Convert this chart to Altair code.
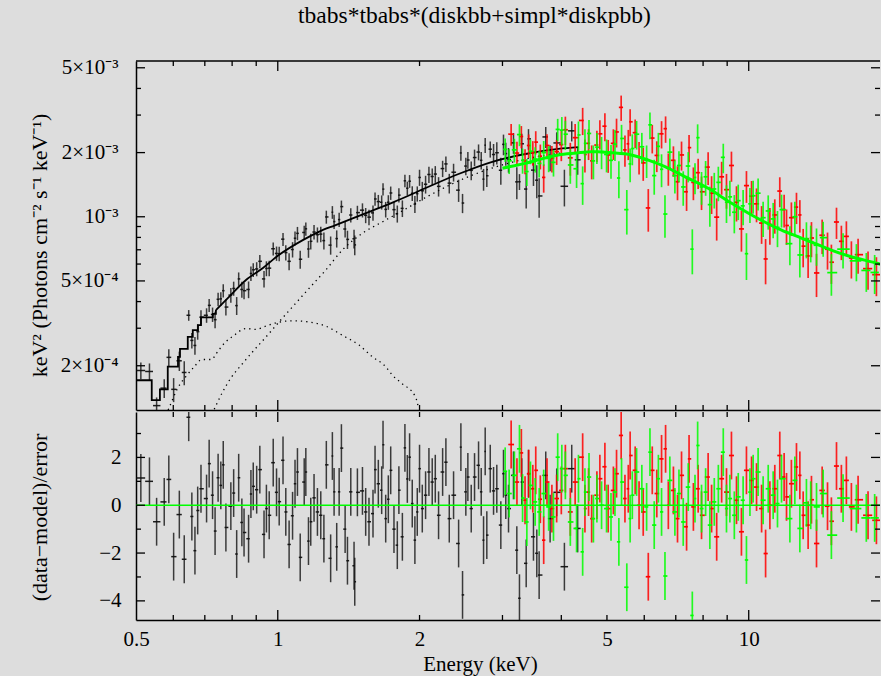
import altair as alt
import numpy as np
import pandas as pd

FONT = "Liberation Serif"
W, H_TOP, H_BOT = 744, 349, 208
X_DOM = [0.5, 19.0]
Y_TOP_DOM = [1.24e-4, 5.38e-3]
Y_BOT_DOM = [-4.8, 3.9]
BLK, RED, GRN = "#000000", "#ff0000", "#00ff00"

# ---------------- black instrument (energies keV, flux & error in 1e-4, residuals) ----------------
blk_E = [0.512,0.534,0.553,0.574,0.587,0.601,0.618,0.633,0.647,0.657,
         0.667,0.676,0.687,0.706,0.715,0.727,0.736,0.747,0.757,0.766,
         0.776,0.795,0.806,0.818,0.826,0.839,0.848,0.867,0.877,0.887,
         0.902,0.916,0.935,0.946,0.959,0.978,0.994,1.007,1.026,1.040,
         1.057,1.075,1.088,1.101,1.116,1.138,1.147,1.162,1.175,1.194,
         1.214,1.234,1.253,1.268,1.295,1.306,1.317,1.334,1.350,1.365,
         1.390,1.406,1.429,1.452,1.457,1.476,1.513,1.537,1.562,1.593,
         1.609,1.635,1.662,1.673,1.695,1.717,1.737,1.765,1.794,1.808,
         1.839,1.862,1.884,1.905,1.930,1.955,1.978,2.000,2.027,2.060,
         2.094,2.128,2.160,2.195,2.239,2.275,2.313,2.362,2.421,2.448,
         2.468,2.508,2.533,2.575,2.617,2.669,2.704,2.735,2.757,2.779,
         2.826,2.872,2.918,2.976,3.015,3.049,3.090,3.166,3.218,3.260,
         3.297,3.369,3.407,3.491,3.548,3.589,3.707,3.787,3.911,4.061,4.209,4.333]
blk_flux = [1.90,1.88,1.30,1.57,2.19,1.55,2.11,1.86,3.45,2.63,
            2.49,2.89,3.38,3.45,3.84,3.48,3.29,4.10,4.12,4.50,
            3.77,4.29,4.61,3.83,5.11,4.56,4.50,4.56,5.42,5.64,
            5.69,6.18,5.11,5.72,5.74,7.08,6.73,6.71,7.85,6.79,
            6.18,7.02,7.93,8.36,6.32,8.44,8.78,7.06,7.67,8.48,
            8.24,8.29,7.73,9.98,7.36,10.50,9.49,7.90,9.70,11.16,
            8.76,7.83,10.19,7.89,7.38,10.46,10.74,10.16,9.96,10.43,
            12.12,11.78,11.70,13.48,10.83,11.70,12.93,10.80,10.34,12.63,
            10.95,14.75,13.61,14.68,12.88,11.46,12.83,15.29,13.24,14.21,
            15.79,15.45,15.86,13.89,16.83,17.70,14.38,16.18,13.33,19.93,
            11.60,17.29,18.46,16.51,18.96,20.12,18.40,15.01,21.67,15.58,
            20.75,19.59,19.97,16.53,21.86,19.79,18.56,22.22,14.58,14.60,
            22.00,13.49,23.20,16.55,14.84,12.52,23.69,19.00,22.20,13.90,25.30,18.50]
blk_err = [0.17,0.17,0.12,0.16,0.20,0.20,0.22,0.24,0.20,0.22,
           0.24,0.24,0.26,0.27,0.27,0.27,0.29,0.30,0.31,0.32,
           0.33,0.34,0.35,0.37,0.37,0.39,0.40,0.41,0.42,0.42,
           0.43,0.44,0.45,0.46,0.48,0.50,0.52,0.53,0.55,0.56,
           0.57,0.58,0.59,0.60,0.61,0.63,0.63,0.64,0.65,0.66,
           0.67,0.69,0.70,0.70,0.72,0.72,0.73,0.73,0.74,0.75,
           0.76,0.77,0.78,0.79,0.79,0.80,0.82,0.83,0.84,0.86,
           0.87,0.88,0.89,0.90,0.91,0.92,0.93,0.94,0.95,0.96,
           0.98,0.99,1.00,1.01,1.02,1.04,1.05,1.33,1.34,1.36,
           1.39,1.41,1.43,1.45,1.48,1.50,1.52,1.55,1.59,1.60,
           1.20,1.64,1.65,1.67,1.70,1.72,1.74,1.76,1.77,1.78,
           1.80,2.36,2.38,2.41,2.43,2.44,2.46,2.49,2.51,1.25,
           2.54,2.56,2.57,2.60,2.61,2.62,2.65,2.67,2.70,2.72,2.74,2.76]
blk_res = [1.14,1.00,-0.69,0.14,1.08,-2.15,-0.39,-2.26,3.68,-0.47,
           -1.90,-0.22,0.69,0.28,1.74,0.42,-1.08,1.15,0.83,1.69,
           -0.93,-0.04,0.51,-2.04,1.15,-0.72,-1.14,-1.40,0.47,0.79,
           0.65,1.49,-1.22,-0.14,-0.42,1.78,0.54,0.15,1.88,-0.28,
           -1.64,-0.44,0.90,1.39,-2.18,0.97,1.39,-1.50,-0.69,0.31,
           -0.28,-0.42,-1.40,1.69,-2.22,2.06,0.56,-1.74,0.56,2.39,
           -1.00,-2.32,0.56,-2.53,-3.20,0.54,0.60,-0.28,-0.69,-0.35,
           1.49,0.90,0.63,2.53,-0.56,0.25,1.46,-1.00,-1.67,0.63,
           -1.32,2.40,1.10,2.01,0.07,-1.46,-0.28,1.53,-0.14,0.42,
           1.39,0.97,1.11,-0.42,1.39,1.80,-0.56,0.42,-1.60,2.43,
           -3.75,0.56,1.18,-0.14,1.18,1.67,0.56,-1.46,2.25,-1.25,
           1.53,0.60,0.69,-0.83,1.32,0.42,-0.14,1.25,-1.88,-3.89,
           0.97,-2.43,1.32,-1.32,-2.01,-2.92,1.25,-0.56,0.54,-2.57,1.53,-0.97]

# ---------------- red instrument ----------------
red_E = [3.13,3.22,3.29,3.35,3.41,3.48,3.53,3.61,3.67,3.73,
         3.82,3.91,4.00,4.08,4.18,4.28,4.44,4.49,4.57,4.64,
         4.76,4.83,4.95,5.03,5.16,5.24,5.36,5.46,5.55,5.60,
         5.74,5.85,5.97,6.12,6.24,6.38,6.53,6.66,6.75,6.92,
         7.06,7.20,7.38,7.47,7.63,7.81,7.94,8.20,8.34,8.55,
         8.76,8.97,9.19,9.42,9.65,9.89,10.14,10.39,10.65,10.86,
         11.09,11.36,11.64,11.89,12.03,12.32,12.63,12.84,13.05,13.37,
         13.59,13.93,14.32,14.70,14.98,15.36,15.73,16.12,16.52,17.07,
         17.92,18.67]
red_flux = [24.4,19.9,23.8,18.3,21.6,20.0,22.4,19.25,15.3,21.6,
            18.8,20.2,21.8,25.6,18.9,23.5,28.3,19.6,22.1,18.3,
            21.7,24.5,26.6,19.5,22.1,25.0,32.6,20.6,22.0,27.9,
            24.8,19.1,17.9,11.0,23.4,19.4,24.5,25.9,16.9,18.4,
            14.6,19.5,13.1,21.1,14.5,16.1,13.1,17.1,12.9,9.96,
            15.4,13.4,17.4,11.7,8.77,14.0,12.5,11.5,9.34,6.34,
            9.2,10.2,13.2,10.8,9.1,9.9,11.1,10.2,7.28,6.55,
            7.95,5.45,8.19,7.04,6.12,9.45,7.67,8.09,6.4,6.64,
            5.71,5.35]
red_err = [2.84,2.57,2.84,2.46,2.73,2.64,2.80,2.57,2.33,2.79,
           2.65,2.70,3.57,3.89,3.32,3.73,4.13,3.45,3.65,3.32,
           3.61,3.84,4.01,3.43,3.63,3.86,4.43,3.43,3.56,4.05,
           3.79,3.30,3.16,2.49,3.58,3.20,3.59,3.67,2.92,3.00,
           2.65,3.03,2.45,3.10,2.54,2.61,2.35,3.00,2.60,2.23,
           2.71,2.49,2.81,2.20,1.91,2.38,2.22,2.08,1.88,1.52,
           1.80,1.87,2.12,1.89,1.72,1.78,1.86,1.77,1.49,1.39,
           1.49,1.25,1.51,1.39,1.28,1.58,1.41,1.43,1.27,1.24,
           1.17,1.11]
red_res = [2.54,0.97,2.19,0.21,1.32,0.69,1.46,0.25,-1.46,0.97,
           -0.14,0.28,0.62,1.53,-0.28,0.97,2.01,-0.14,0.55,-0.56,
           0.42,1.11,1.61,-0.14,0.62,1.32,2.92,0.28,0.69,2.08,
           1.46,0.00,-0.28,-2.99,1.46,0.49,1.94,2.36,0.00,0.62,
           -0.56,1.25,-0.90,1.94,-0.07,0.69,-0.42,1.18,-0.14,-1.32,
           1.11,0.55,2.08,0.21,-1.11,1.46,1.04,0.76,-0.14,-2.02,
           0.00,0.69,2.08,1.18,0.35,0.90,1.60,1.25,-0.42,-0.83,
           0.23,-1.60,0.62,-0.04,-0.67,1.64,0.69,1.04,-0.07,0.23,
           -0.42,-0.63]

# ---------------- green instrument ----------------
grn_E = [3.04,3.10,3.18,3.26,3.31,3.38,3.44,3.52,3.59,3.67,
         3.76,3.85,3.93,4.01,4.08,4.18,4.31,4.35,4.44,4.49,
         4.58,4.68,4.76,4.87,4.99,5.10,5.20,5.30,5.37,5.51,
         5.60,5.66,5.78,5.93,6.07,6.17,6.30,6.43,6.53,6.64,
         6.80,6.97,7.11,7.26,7.44,7.59,7.69,7.79,7.94,8.10,
         8.27,8.45,8.62,8.83,8.97,9.12,9.32,9.50,9.73,9.89,
         10.06,10.22,10.47,10.73,11.00,11.27,11.51,11.74,12.23,12.53,
         12.84,13.26,13.54,13.93,14.39,14.98,15.86,16.93,17.77,18.51]
grn_flux = [20.7,18.3,20.6,24.3,18.4,16.3,20.3,18.65,17.8,20.0,
            18.8,18.0,25.7,25.5,24.4,17.5,16.8,24.2,14.3,22.1,
            24.6,18.3,21.2,20.2,19.6,18.4,21.9,15.2,23.3,10.8,
            17.7,20.9,24.4,21.3,18.4,27.0,15.6,21.4,16.7,10.3,
            20.1,15.6,17.4,13.8,17.3,7.05,15.3,23.5,13.8,15.4,
            11.4,13.5,14.5,19.0,11.7,12.4,10.5,11.9,11.25,6.71,
            11.5,12.55,12.9,9.9,10.65,9.77,8.92,10.8,7.48,10.0,
            6.62,7.9,7.6,7.35,7.98,5.47,7.05,6.21,5.6,5.48]
grn_err = [2.60,2.44,2.62,2.86,2.48,2.35,2.66,2.53,2.51,2.67,
           2.62,2.56,3.10,3.87,3.80,3.22,3.16,3.80,2.93,3.65,
           3.85,3.32,3.53,3.49,3.45,3.31,3.62,3.00,3.70,2.55,
           3.20,3.46,3.74,3.45,3.20,3.87,2.91,3.36,2.94,2.32,
           3.18,2.75,2.87,2.54,2.80,1.68,2.55,3.64,2.42,2.86,
           2.43,2.57,2.67,3.01,2.35,2.34,2.14,2.25,2.12,1.66,
           2.14,2.21,2.20,1.86,1.95,1.84,1.72,1.90,1.55,1.77,
           1.43,1.52,1.49,1.46,1.49,1.21,1.33,1.23,1.16,1.14]
grn_res = [1.42,0.49,1.25,2.36,0.30,-0.70,0.83,0.14,-0.28,0.49,
           -0.07,-0.49,2.01,1.53,1.25,-0.70,-0.97,1.11,-1.95,0.55,
           1.18,-0.56,0.28,0.00,-0.14,-0.49,0.55,-1.53,0.97,-3.43,
           -0.56,0.42,1.39,0.69,-0.07,2.22,-0.83,1.11,-0.28,-2.96,
           1.04,-0.28,0.49,-0.70,0.76,-4.61,0.28,2.50,-0.14,0.55,
           -0.83,0.14,0.69,2.22,-0.14,0.28,-0.42,0.35,0.21,-2.29,
           0.55,1.11,1.39,0.21,0.69,0.42,0.07,1.11,-0.56,1.04,
           -0.97,0.10,0.00,-0.07,0.49,-1.25,0.30,-0.14,-0.53,-0.53]

# ---------------- models (1e-4 units) ----------------
blk_step_E = [0.500,0.540,0.562,0.584,0.614,0.620,0.644,0.660,0.677,0.687,0.728,0.739]
blk_step_v = [1.71,1.38,1.55,1.98,2.20,2.40,2.73,2.94,3.10,3.37,3.50,3.65]
blk_mod_E = [0.739,0.787,0.856,0.930,1.005,1.130,1.222,1.327,1.442,1.559,1.762,2.061,2.420,2.843,3.357,3.940,4.350]
blk_mod_v = [3.65,4.20,5.05,5.75,6.61,7.77,8.50,9.14,9.83,10.52,11.72,13.64,15.87,18.06,19.70,20.80,21.20]
nus_mod_E = [3.00,3.35,3.94,4.30,4.63,4.79,5.04,5.63,6.10,6.64,7.33,8.20,9.18,10.3,11.54,12.73,13.8,14.97,16.5,18.8,19.5]
nus_mod_v = [16.9,17.8,19.5,19.9,20.2,20.2,20.0,19.5,18.5,17.2,15.4,13.6,11.6,10.0,8.8,8.06,7.5,6.98,6.49,6.04,5.9]
compA_E = [0.585,0.593,0.613,0.638,0.665,0.690,0.724,0.739,0.770,0.808,0.856,0.899,0.943,0.991,1.075,1.165,1.264,1.371,1.488,1.589,1.695,1.75,1.83,1.96,1.99]
compA_v = [1.24,1.33,1.57,1.78,1.98,2.14,2.14,2.27,2.55,2.78,2.99,2.96,3.07,3.18,3.25,3.21,3.07,2.78,2.50,2.20,1.98,1.81,1.66,1.43,1.27]
compB_E = [0.733,0.764,0.795,0.842,0.891,0.951,1.006,1.076,1.165,1.264,1.371,1.512,1.667,1.83,2.10,2.40,2.80,3.20,3.60,4.00]
compB_v = [1.25,1.51,1.75,2.05,2.37,2.78,3.21,3.79,4.61,5.62,6.98,8.36,9.46,10.6,12.6,14.6,16.7,18.2,19.2,19.9]

# ---------------- axis ticks / labels ----------------
x_lab_vals = [0.5, 1, 2, 5, 10]
x_major = [1, 10]
x_minor = [0.6, 0.7, 0.8, 0.9, 2, 3, 4, 5, 6, 7, 8, 9]
yt_lab_vals = [2e-4, 5e-4, 1e-3, 2e-3, 5e-3]
yt_lab_text = ["2\u00d710\u207b\u2074", "5\u00d710\u207b\u2074", "10\u207b\u00b3",
               "2\u00d710\u207b\u00b3", "5\u00d710\u207b\u00b3"]
yt_minor = [3e-4, 4e-4, 6e-4, 7e-4, 8e-4, 9e-4, 3e-3, 4e-3]
yb_lab_vals = [-4, -2, 0, 2]
yb_minor = [-3, -1, 1, 3]

TITLE = "tbabs*tbabs*(diskbb+simpl*diskpbb)"
YT_TITLE = "keV\u00b2 (Photons cm\u207b\u00b2 s\u207b\u00b9 keV\u207b\u00b9)"
YB_TITLE = "(data\u2212model)/error"
XB_TITLE = "Energy (keV)"


def series_df(E, f, e, r):
    n = min(len(E), len(f), len(e), len(r))
    E = np.array(E[:n], float)
    f = np.array(f[:n], float) * 1e-4
    e = np.array(e[:n], float) * 1e-4
    r = np.array(r[:n], float)
    mid = np.sqrt(E[:-1] * E[1:])
    lo = np.concatenate([[E[0] ** 2 / mid[0]], mid])
    hi = np.concatenate([mid, [E[-1] ** 2 / mid[-1]]])
    return pd.DataFrame(dict(E=E, lo=lo, hi=hi, f=f, fl=np.maximum(f - e, 1e-6), fh=f + e,
                             r=r, rl=r - 1, rh=r + 1))


def curve_df(E, v):
    n = min(len(E), len(v))
    return pd.DataFrame(dict(E=E[:n], v=np.array(v[:n], float) * 1e-4))


xs = alt.Scale(type="log", domain=X_DOM, nice=False)
yts = alt.Scale(type="log", domain=Y_TOP_DOM, nice=False)
ybs = alt.Scale(domain=Y_BOT_DOM, nice=False, zero=False)

blk = series_df(blk_E, blk_flux, blk_err, blk_res)
red = series_df(red_E, red_flux, red_err, red_res)
grn = series_df(grn_E, grn_flux, grn_err, grn_res)

# label text for the log axis, chosen from the tick-label lists
label_expr = ""
for v, t in zip(yt_lab_vals[:-1], yt_lab_text[:-1]):
    label_expr += "datum.value < %r ? '%s' : " % (v * 1.2, t)
label_expr += "'%s'" % yt_lab_text[-1]

common_axis = dict(ticks=False, domain=True, grid=False, labelFont=FONT, titleFont=FONT,
                   labelFontSize=21, labelColor="black", titleColor="black",
                   domainColor="black", domainWidth=1.5, titleFontWeight="normal",
                   labelFlush=False, labelOverlap=False)

top_x_axis = alt.Axis(orient="bottom", labels=False, title=None, **common_axis)
top_y_axis = alt.Axis(orient="left", values=yt_lab_vals, labelExpr=label_expr, labelPadding=18,
                      title=YT_TITLE, titleFontSize=22, titleX=-97, titleY=184, titleAngle=270,
                      titleAlign="center", titleBaseline="middle", **common_axis)
bot_x_axis = alt.Axis(orient="bottom", values=x_lab_vals, format="~g", labelPadding=8,
                      title=XB_TITLE, titleFontSize=21, titleX=344, titleY=50, titleAngle=0,
                      titleAlign="center", titleBaseline="alphabetic", **common_axis)
bot_y_axis = alt.Axis(orient="left", values=yb_lab_vals, labelPadding=15,
                      title=YB_TITLE, titleFontSize=22, titleX=-97, titleY=105, titleAngle=270,
                      titleAlign="center", titleBaseline="middle", **common_axis)


def X(field, axis=None):
    return alt.X(field, scale=xs, axis=axis) if axis is not None else alt.X(field, scale=xs)


def Y(field, scale, axis=None):
    return alt.Y(field, scale=scale, axis=axis) if axis is not None else alt.Y(field, scale=scale)


def bars(df, color, op, sw, top=True, xaxis=None, yaxis=None):
    base = alt.Chart(df)
    ys = yts if top else ybs
    c, lo, hi = ("f", "fl", "fh") if top else ("r", "rl", "rh")
    v = base.mark_rule(clip=True, color=color, opacity=op, strokeWidth=sw).encode(
        x=X("E:Q", xaxis), y=Y(lo + ":Q", ys, yaxis), y2=hi + ":Q")
    h = base.mark_rule(clip=True, color=color, opacity=min(1, op + 0.15), strokeWidth=sw).encode(
        x=X("lo:Q"), x2="hi:Q", y=Y(c + ":Q", ys))
    return [v, h]


def xticks(vals, L, H):
    base = alt.Chart(pd.DataFrame({"v": vals}))
    bottom = base.mark_rule(color="black", strokeWidth=1.3).encode(
        x=X("v:Q"), y=alt.value(H), y2=alt.value(H - L))
    top = base.mark_rule(color="black", strokeWidth=1.3).encode(
        x=X("v:Q"), y=alt.value(0), y2=alt.value(L))
    return [bottom, top]


def yticks(vals, L, yscale):
    base = alt.Chart(pd.DataFrame({"v": vals}))
    left = base.mark_rule(color="black", strokeWidth=1.3).encode(
        y=Y("v:Q", yscale), x=alt.value(0), x2=alt.value(L))
    right = base.mark_rule(color="black", strokeWidth=1.3).encode(
        y=Y("v:Q", yscale), x=alt.value(W), x2=alt.value(W - L))
    return [left, right]


def line(E, v, color, sw, interp, dash=None):
    kw = dict(clip=True, color=color, strokeWidth=sw, interpolate=interp)
    if dash:
        kw["strokeDash"] = dash
    return alt.Chart(curve_df(E, v)).mark_line(**kw).encode(x=X("E:Q"), y=Y("v:Q", yts))


frame_top = alt.Chart(pd.DataFrame({"a": [0]})).mark_rule(color="black", strokeWidth=1.5).encode(
    x=alt.XDatum(X_DOM[0]), x2=alt.X2Datum(X_DOM[1]), y=alt.value(0))

# ---------------- top panel ----------------
top_layers = []
top_layers += bars(blk, "#111111", 0.8, 1.5, xaxis=top_x_axis, yaxis=top_y_axis)
top_layers.append(line(blk_step_E, blk_step_v, "black", 1.8, "step-after"))
top_layers.append(line(blk_mod_E, blk_mod_v, "black", 1.8, "monotone"))
top_layers.append(line(compA_E, compA_v, "black", 1.3, "monotone", [1.3, 4]))
top_layers.append(line(compB_E, compB_v, "black", 1.3, "monotone", [1.3, 4]))
top_layers += bars(red, RED, 0.85, 1.7)
top_layers += bars(grn, GRN, 0.85, 1.7)
top_layers.append(line(nus_mod_E, nus_mod_v, GRN, 3, "monotone"))
top_layers += xticks(x_major, 10, H_TOP)
top_layers += xticks(x_minor, 5, H_TOP)
top_layers += yticks(yt_lab_vals, 9, yts)
top_layers += yticks(yt_minor, 5, yts)
top_layers.append(frame_top)
top = alt.layer(*top_layers).properties(width=W, height=H_TOP)

# ---------------- bottom panel ----------------
bot_layers = []
bot_layers += bars(blk, "#111111", 0.8, 1.5, top=False, xaxis=bot_x_axis, yaxis=bot_y_axis)
bot_layers += bars(red, RED, 0.85, 1.7, top=False)
bot_layers += bars(grn, GRN, 0.85, 1.7, top=False)
bot_layers.append(alt.Chart(pd.DataFrame({"a": [0]})).mark_rule(color=GRN, strokeWidth=1.3).encode(
    y=alt.YDatum(0)))
bot_layers += xticks(x_major, 10, H_BOT)
bot_layers += xticks(x_minor, 5, H_BOT)
bot_layers += yticks(yb_lab_vals, 9, ybs)
bot_layers += yticks(yb_minor, 5, ybs)
bot = alt.layer(*bot_layers).properties(width=W, height=H_BOT)

chart = alt.vconcat(top, bot, spacing=0).properties(
    title=alt.TitleParams(TITLE, font=FONT, fontSize=23.5, fontWeight="normal", color="black",
                          anchor="middle", dx=20, offset=29),
    background="#dddddd",
    padding={"left": 28, "top": 4, "right": 0, "bottom": 2},
).configure_view(stroke=None)

chart.save("out.html", embed_options={"renderer": "svg", "actions": False})
